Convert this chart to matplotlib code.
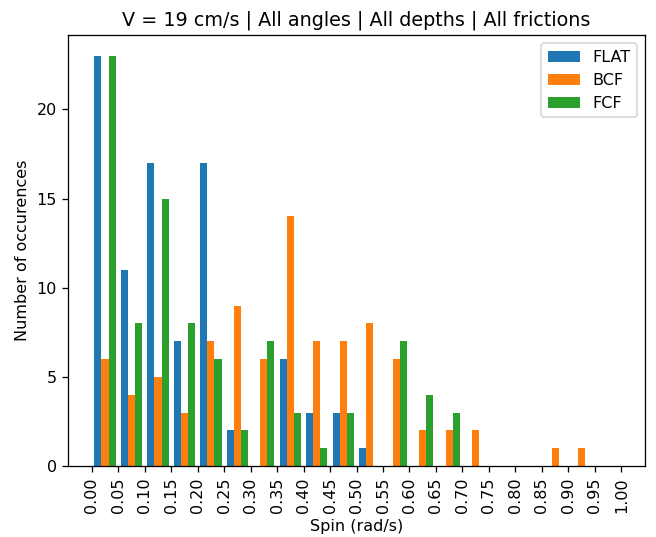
import matplotlib
matplotlib.use("Agg")
import matplotlib.pyplot as plt
import numpy as np

# histogram bins (rad/s)
edges = np.round(np.arange(0, 1.0001, 0.05), 2)
centers = (edges[:-1] + edges[1:]) / 2

# counts per bin
flat = [23, 11, 17, 7, 17, 2, 0, 6, 3, 3, 1, 0, 0, 0, 0, 0, 0, 0, 0, 0]
bcf = [6, 4, 5, 3, 7, 9, 6, 14, 7, 7, 8, 6, 2, 2, 2, 0, 0, 1, 1, 0]
fcf = [23, 8, 15, 8, 6, 2, 7, 3, 1, 3, 0, 7, 4, 3, 0, 0, 0, 0, 0, 0]

dpi = 115
fig = plt.figure(figsize=(656 / dpi, 537 / dpi), dpi=dpi)
ax = fig.add_subplot(111)
ax.hist([centers, centers, centers], bins=edges, weights=[flat, bcf, fcf],
        label=["FLAT", "BCF", "FCF"])
ax.set_xticks(edges)
ax.set_xticklabels(["%.2f" % e for e in edges], rotation=90)
ax.set_xlabel("Spin (rad/s)")
ax.set_ylabel("Number of occurences")
ax.set_title("V = 19 cm/s | All angles | All depths | All frictions")
ax.legend(loc="upper right")

fig.subplots_adjust(left=0.104, right=0.983, top=0.934, bottom=0.132)
fig.savefig("out.png", dpi=dpi)
